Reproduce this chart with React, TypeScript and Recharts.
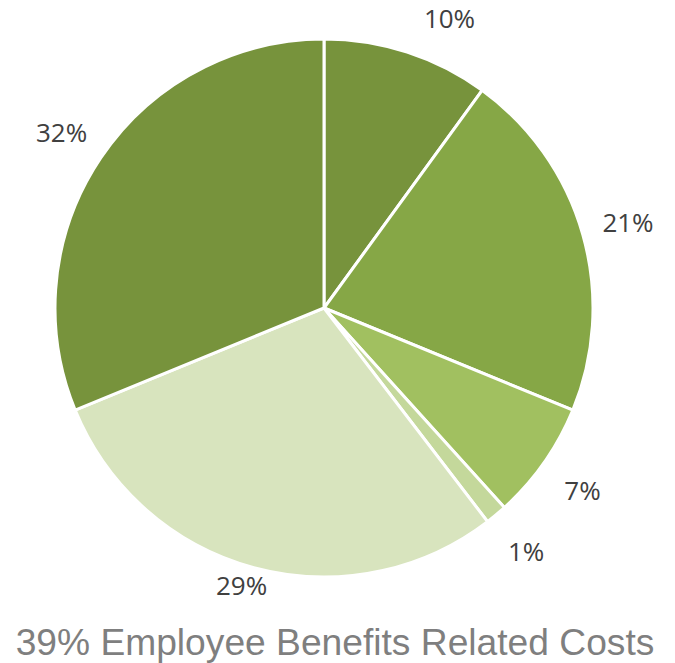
import { Cell, Pie, PieChart } from 'recharts'

const categories = ['A', 'B', 'C', 'D', 'E', 'F']
const shares = [10.0, 21.2, 7.1, 1.3, 29.2, 31.2]
const shareLabels = ['10%', '21%', '7%', '1%', '29%', '32%']
const colors = ['#77933C', '#86A746', '#A1C060', '#C4D89B', '#D8E4BE', '#77933C']
const title = '39% Employee Benefits Related Costs'

const RAD = Math.PI / 180
const LABEL_TOP = 18
const LABEL_BOTTOM = 585

const renderLabel = (props: any) => {
  const { cx, cy, midAngle, outerRadius, index } = props
  const ux = Math.cos(-midAngle * RAD)
  const uy = Math.sin(-midAngle * RAD)
  const d = outerRadius + 47
  let x = cx + d * ux
  let y = cy + d * uy
  if (y < LABEL_TOP) {
    // slide along the label circle so it stays inside the top edge
    y = LABEL_TOP
    const dy = cy - LABEL_TOP
    x = cx + Math.sign(ux) * Math.sqrt(Math.max(d * d - dy * dy, 0))
  }
  // keep the bottom label clear of the title
  if (y > LABEL_BOTTOM) y = LABEL_BOTTOM
  return (
    <text
      x={x}
      y={y}
      textAnchor="middle"
      dominantBaseline="central"
      fill="#404040"
      fontSize={26}
      fontFamily="'Open Sans', sans-serif"
    >
      {shareLabels[index]}
    </text>
  )
}

const App = () => {
  const data = categories.map((name, i) => ({ name, value: shares[i] }))
  return (
    <div
      style={{
        position: 'absolute',
        left: 0,
        top: 0,
        width: 675,
        height: 663,
        background: '#fff',
      }}
    >
      <PieChart
        width={675}
        height={663}
        margin={{ top: 0, right: 0, bottom: 0, left: 0 }}
      >
        <Pie
          data={data}
          dataKey="value"
          cx={324}
          cy={308}
          outerRadius={269}
          startAngle={90}
          endAngle={-270}
          stroke="#fff"
          strokeWidth={3}
          label={renderLabel}
          labelLine={false}
          isAnimationActive={false}
        >
          {data.map((d, i) => (
            <Cell key={d.name} fill={colors[i]} />
          ))}
        </Pie>
      </PieChart>
      <svg
        width={675}
        height={663}
        style={{ position: 'absolute', left: 0, top: 0, pointerEvents: 'none' }}
      >
        <text
          x={335}
          y={655}
          textAnchor="middle"
          fill="#7F7F7F"
          fontSize={37.2}
          fontFamily="'Liberation Sans', Arial, sans-serif"
        >
          {title}
        </text>
      </svg>
    </div>
  )
}

export default App
